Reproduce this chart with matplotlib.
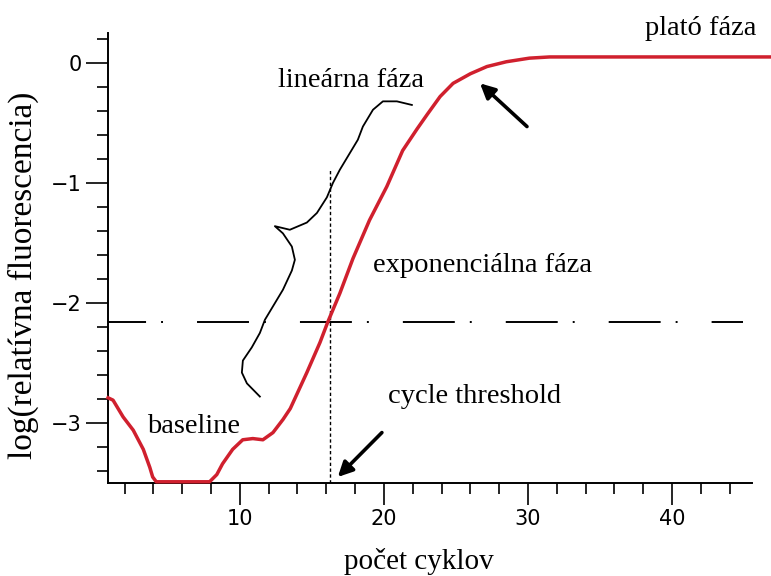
import matplotlib
matplotlib.use("Agg")
import matplotlib.pyplot as plt

plt.rcParams["lines.scale_dashes"] = False

# amplification curve (cycle, log relative fluorescence)
cycles = [0.85, 1.2, 1.9, 2.6, 3.3, 3.75, 3.95, 4.2, 7.9, 8.4, 8.8, 9.5, 10.2,
          10.9, 11.6, 12.3, 13.0, 13.5, 14.65, 15.56, 16.1, 16.94, 17.85, 19.0,
          20.2, 21.3, 22.3, 23.0, 23.9, 24.8, 26.0, 27.15, 28.5, 30.1, 31.5,
          40.0, 47.0]
log_fluor = [-2.79, -2.81, -2.95, -3.06, -3.22, -3.37, -3.45, -3.49, -3.49, -3.43,
             -3.34, -3.22, -3.14, -3.13, -3.14, -3.08, -2.97, -2.88, -2.58, -2.33,
             -2.16, -1.92, -1.63, -1.31, -1.03, -0.73, -0.55, -0.43, -0.28, -0.17,
             -0.09, -0.03, 0.01, 0.04, 0.05, 0.05, 0.05]

threshold = -2.16
ct = 16.25
ct_top = -0.89

# hand drawn brace next to the linear phase
brace_x = [21.94, 20.90, 19.93, 19.24, 18.54, 18.19, 17.64, 16.94, 16.46, 16.04,
           15.35, 14.65, 13.47, 12.43, 12.99, 13.61, 13.82, 13.61, 12.99, 12.29,
           11.74, 11.39, 10.83, 10.21, 10.14, 10.49, 11.39]
brace_y = [-0.35, -0.32, -0.32, -0.39, -0.53, -0.64, -0.75, -0.89, -1.00, -1.12,
           -1.25, -1.33, -1.39, -1.36, -1.42, -1.53, -1.64, -1.73, -1.89, -2.03,
           -2.14, -2.25, -2.37, -2.48, -2.58, -2.67, -2.78]

labels = ["lineárna fáza", "exponenciálna fáza", "plató fáza", "cycle threshold", "baseline"]
label_x = [12.64, 19.24, 38.13, 20.28, 3.54]
label_y = [-0.20, -1.74, 0.233, -2.83, -3.08]

# arrows: (tail x, tail y, head x, head y)
arrows = [(29.93, -0.53, 26.67, -0.17),
          (19.86, -3.08, 16.80, -3.45)]

SERIF = "Liberation Serif"

fig = plt.figure(figsize=(7.71, 5.76), dpi=100)
ax = fig.add_axes([0.1401, 0.1615, 0.8353, 0.7813])
ax.set_xlim(0.85, 45.55)
ax.set_ylim(-3.5, 0.25)

ax.plot(cycles, log_fluor, color="#d0202e", lw=2.5, clip_on=False, zorder=4,
        solid_joinstyle="round")
ax.plot([0.85, 44.93], [threshold, threshold], color="black", lw=1.4,
        linestyle=(10, (37.4, 10.8, 1.4, 24.5)), zorder=3)
ax.plot([ct, ct], [-3.5, ct_top], color="black", lw=1.0,
        linestyle=(0, (2.4, 1.8)), zorder=3)
ax.plot(brace_x, brace_y, color="black", lw=1.3, zorder=3,
        solid_joinstyle="round")

for tx, ty, hx, hy in arrows:
    ax.annotate("", xy=(hx, hy), xytext=(tx, ty),
                arrowprops=dict(arrowstyle="-|>", color="black", lw=2.6,
                                mutation_scale=22, shrinkA=0, shrinkB=0))

for s, x, y in zip(labels, label_x, label_y):
    ax.text(x, y, s, family=SERIF, fontsize=20.5, ha="left", va="baseline")

for side in ("top", "right"):
    ax.spines[side].set_visible(False)
for side in ("left", "bottom"):
    ax.spines[side].set_linewidth(1.4)

ax.set_xticks([10, 20, 30, 40])
ax.set_xticks(range(2, 46, 2), minor=True)
ax.set_yticks([0, -1, -2, -3])
ax.set_yticks([-3.4, -3.2, -2.8, -2.6, -2.4, -2.2, -1.8, -1.6, -1.4, -1.2,
               -0.8, -0.6, -0.4, -0.2, 0.2], minor=True)
ax.tick_params(which="major", length=16, width=1.2, labelsize=15, pad=3)
ax.tick_params(which="minor", length=8, width=1.2)

fig.text(418.5 / 771, 0.012, "počet cyklov", family=SERIF, fontsize=21,
         ha="center", va="baseline")
fig.text(23 / 771, 1 - 275 / 576, "log(relatívna fluorescencia)", family=SERIF,
         fontsize=24, rotation=90, ha="center", va="center")

fig.savefig("out.png", dpi=100)
